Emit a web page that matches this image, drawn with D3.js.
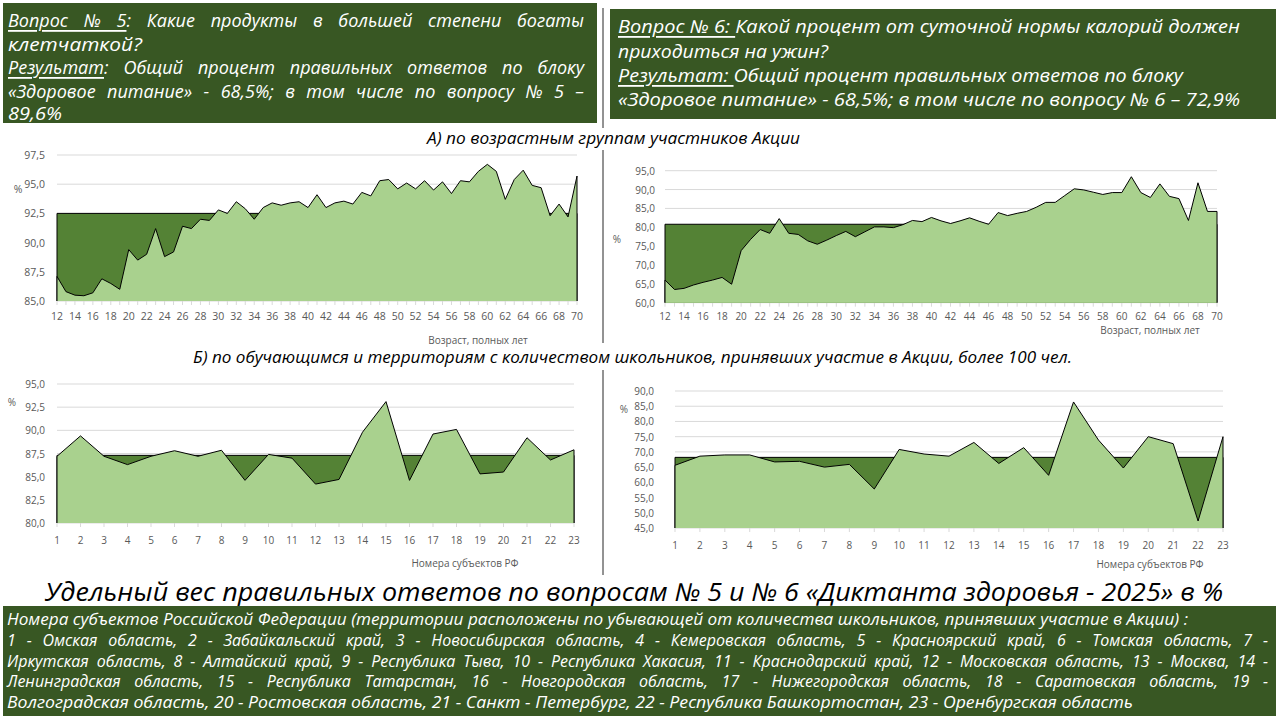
<!DOCTYPE html>
<html lang="ru">
<head>
<meta charset="UTF-8">
<title>Диктант здоровья - 2025</title>
<style>
  body { margin: 0; background: #fff; }
  svg { display: block; }
</style>
</head>
<body>
<div id="chart"></div>
<script src="https://d3js.org/d3.v7.min.js"></script>
<script>
// categories
const ages = [12, 13, 14, 15, 16, 17, 18, 19, 20, 21, 22, 23, 24, 25, 26, 27, 28, 29, 30, 31,
  32, 33, 34, 35, 36, 37, 38, 39, 40, 41, 42, 43, 44, 45, 46, 47, 48, 49, 50, 51,
  52, 53, 54, 55, 56, 57, 58, 59, 60, 61, 62, 63, 64, 65, 66, 67, 68, 69, 70];
const regions = [1, 2, 3, 4, 5, 6, 7, 8, 9, 10, 11, 12, 13, 14, 15, 16, 17, 18, 19, 20, 21, 22, 23];

// question 5, by age
const q5ByAge = [87.1, 85.8, 85.5, 85.45, 85.7, 86.9, 86.5, 86.0, 89.4, 88.5,
  89.0, 91.2, 88.8, 89.2, 91.4, 91.2, 92.0, 91.9, 92.8, 92.5,
  93.5, 92.9, 92.0, 93.0, 93.4, 93.2, 93.4, 93.5, 93.0, 94.1,
  93.0, 93.4, 93.55, 93.3, 94.3, 94.0, 95.3, 95.4, 94.6, 95.1,
  94.6, 95.3, 94.5, 95.2, 94.2, 95.3, 95.2, 96.1, 96.7, 96.1,
  93.7, 95.4, 96.2, 94.9, 94.7, 92.3, 93.3, 92.2, 95.7];
const q5AgeRef = 92.5;

// question 6, by age
const q6ByAge = [66.0, 63.5, 63.8, 64.7, 65.4, 66.0, 66.7, 64.9, 73.8, 76.8,
  79.4, 78.4, 82.3, 78.4, 78.1, 76.4, 75.5, 76.6, 77.8, 78.9,
  77.5, 78.8, 80.1, 80.1, 79.9, 80.7, 81.8, 81.5, 82.6, 81.7,
  81.0, 81.7, 82.5, 81.6, 80.8, 83.9, 83.1, 83.7, 84.2, 85.3,
  86.6, 86.6, 88.4, 90.2, 89.9, 89.3, 88.7, 89.2, 89.2, 93.4,
  89.2, 87.9, 91.5, 88.2, 87.6, 81.8, 91.8, 84.2, 84.2];
const q6AgeRef = 80.8;

// by region
const q5ByRegion = [87.2, 89.4, 87.2, 86.3, 87.2, 87.8, 87.2, 87.85, 84.6, 87.4, 87.0, 84.2,
  84.7, 89.8, 93.1, 84.6, 89.6, 90.1, 85.3, 85.5, 89.2, 86.8, 87.9];
const q5RegionRef = 87.3;
const q6ByRegion = [65.6, 68.6, 69.0, 69.0, 66.7, 66.9, 65.0, 65.9, 57.8, 70.8, 69.3, 68.6,
  73.1, 66.2, 71.4, 62.3, 86.4, 73.9, 64.7, 75.0, 72.7, 47.3, 75.0];
const q6RegionRef = 68.2;

// y tick labels
const yTicks1 = [85, 87.5, 90, 92.5, 95, 97.5];
const yTicks2 = [60, 65, 70, 75, 80, 85, 90, 95];
const yTicks3 = [80, 82.5, 85, 87.5, 90, 92.5, 95];
const yTicks4 = [45, 50, 55, 60, 65, 70, 75, 80, 85, 90];

const FONT = "'Open Sans', 'Noto Sans', sans-serif";
const BOX = '#385723';
const DARK = '#548235';
const LIGHT = '#a9d18e';
const fmt = v => d3.format('.1f')(v).replace('.', ',');

const svg = d3.select('#chart')
  .append('svg')
  .attr('width', 1280)
  .attr('height', 720);

svg.append('rect').attr('width', 1280).attr('height', 720).attr('fill', '#fff');

// fit a line of text to a width (justify = stretch spaces)
function fit(sel, width, justify) {
  const node = sel.node();
  const w = node.getComputedTextLength();
  if (justify && w < width) {
    const spaces = (node.textContent.match(/ /g) || []).length;
    sel.attr('word-spacing', (width - w) / spaces);
  } else {
    sel.attr('textLength', width).attr('lengthAdjust', 'spacingAndGlyphs');
  }
}

function textLine(x, y, parts, size, color, width, justify) {
  const t = svg.append('text')
    .attr('x', x)
    .attr('y', y)
    .attr('dominant-baseline', 'central')
    .attr('font-family', FONT)
    .attr('font-style', 'italic')
    .attr('font-size', size)
    .attr('fill', color);
  parts.forEach(p => {
    t.append('tspan')
      .attr('text-decoration', p[1] ? 'underline' : null)
      .text(p[0]);
  });
  if (width) fit(t, width, justify);
  return t;
}

// header boxes
svg.append('rect').attr('x', 3).attr('y', 3).attr('width', 594).attr('height', 120).attr('fill', BOX);
svg.append('rect').attr('x', 610).attr('y', 9).attr('width', 666).attr('height', 110).attr('fill', BOX);

const W = '#ffffff';
textLine(8, 20, [['Вопрос № 5', 1], [': Какие продукты в большей степени богаты']], 18, W, 576, true);
textLine(8, 44, [['клетчаткой?']], 18, W, 134, false);
textLine(8, 67, [['Результат', 1], [': Общий процент правильных ответов по блоку']], 18, W, 576, true);
textLine(8, 91, [['«Здоровое питание» - 68,5%; в том числе по вопросу № 5 –']], 18, W, 576, true);
textLine(8, 113, [['89,6%']], 18, W, 54, false);

textLine(618, 26, [['Вопрос № 6: ', 1], ['Какой процент от суточной нормы калорий должен']], 18, W, 622, false);
textLine(618, 51, [['приходиться на ужин?']], 18, W, 210, false);
textLine(618, 75, [['Результат: ', 1], ['Общий процент правильных ответов по блоку']], 18, W, 565, false);
textLine(618, 99, [['«Здоровое питание» - 68,5%; в том числе по вопросу № 6 – 72,9%']], 18, W, 622, false);

// divider
[[8, 128], [150, 343], [370, 575]].forEach(s => {
  svg.append('line')
    .attr('x1', 603).attr('x2', 603)
    .attr('y1', s[0]).attr('y2', s[1])
    .attr('stroke', '#262626').attr('stroke-width', 1);
});

// subtitles
textLine(427, 138, [['А) по возрастным группам участников Акции']], 16, '#000', 373, false);
textLine(193, 357, [['Б) по обучающимся и территориям с количеством школьников,  принявших участие в Акции, более 100 чел.']], 16, '#000', 879, false);

function drawChart(cfg) {
  const g = svg.append('g');
  const x = d3.scaleLinear()
    .domain([cfg.cats[0], cfg.cats[cfg.cats.length - 1]])
    .range(cfg.xr);
  const y = d3.scaleLinear()
    .domain([cfg.ticks[0], cfg.ticks[cfg.ticks.length - 1]])
    .range(cfg.yr);
  const base = cfg.ticks[0];

  // gridlines
  g.selectAll('.grid')
    .data(cfg.ticks)
    .enter()
    .append('line')
    .attr('x1', cfg.xr[0]).attr('x2', cfg.xr[1])
    .attr('y1', d => y(d)).attr('y2', d => y(d))
    .attr('stroke', '#d9d9d9')
    .attr('stroke-width', 1);

  // x tick marks
  g.selectAll('.tick')
    .data(cfg.cats)
    .enter()
    .append('line')
    .attr('x1', d => x(d)).attr('x2', d => x(d))
    .attr('y1', y(base)).attr('y2', y(base) + 4)
    .attr('stroke', '#d9d9d9');

  // reference area
  const refArea = d3.area()
    .x(d => x(d))
    .y0(y(base))
    .y1(y(cfg.ref));
  g.append('path').attr('d', refArea(cfg.cats)).attr('fill', DARK);

  const outline = d3.line().x(d => x(d[0])).y(d => y(d[1]));
  const first = cfg.cats[0], last = cfg.cats[cfg.cats.length - 1];
  g.append('path')
    .attr('d', outline([[first, base], [first, cfg.ref], [last, cfg.ref], [last, base]]))
    .attr('fill', 'none').attr('stroke', '#000').attr('stroke-width', 1);

  // series area
  const pts = cfg.cats.map((c, i) => [c, cfg.values[i]]);
  const area = d3.area()
    .x(d => x(d[0]))
    .y0(y(base))
    .y1(d => y(d[1]));
  g.append('path').attr('d', area(pts)).attr('fill', LIGHT);
  g.append('path')
    .attr('d', outline([[first, base]].concat(pts, [[last, base]])))
    .attr('fill', 'none').attr('stroke', '#000').attr('stroke-width', 1)
    .attr('stroke-linejoin', 'round');

  // y labels
  g.selectAll('.ylab')
    .data(cfg.ticks)
    .enter()
    .append('text')
    .attr('x', cfg.xr[0] - cfg.yOff)
    .attr('y', d => y(d))
    .attr('dominant-baseline', 'central')
    .attr('text-anchor', 'end')
    .attr('font-family', FONT)
    .attr('font-size', cfg.fs)
    .attr('fill', '#595959')
    .text(fmt);

  // x labels
  g.selectAll('.xlab')
    .data(cfg.cats.filter((c, i) => i % cfg.step === 0))
    .enter()
    .append('text')
    .attr('x', d => x(d))
    .attr('y', cfg.xLabY)
    .attr('dominant-baseline', 'central')
    .attr('text-anchor', 'middle')
    .attr('font-family', FONT)
    .attr('font-size', cfg.fs)
    .attr('fill', '#595959')
    .text(d => d);

  g.append('text')
    .attr('x', cfg.pct[0]).attr('y', cfg.pct[1])
    .attr('dominant-baseline', 'central')
    .attr('text-anchor', 'middle')
    .attr('font-family', FONT)
    .attr('font-size', cfg.fs)
    .attr('fill', '#595959')
    .text('%');

  g.append('text')
    .attr('x', cfg.title[1]).attr('y', cfg.title[2])
    .attr('dominant-baseline', 'central')
    .attr('text-anchor', 'middle')
    .attr('font-family', FONT)
    .attr('font-size', 10)
    .attr('fill', '#595959')
    .text(cfg.title[0]);
}

drawChart({ cats: ages, values: q5ByAge, ref: q5AgeRef, ticks: yTicks1,
  xr: [57, 577], yr: [301, 155], yOff: 12, fs: 10.5, step: 2, xLabY: 316,
  pct: [18, 189], title: ['Возраст, полных лет', 478, 340] });

drawChart({ cats: ages, values: q6ByAge, ref: q6AgeRef, ticks: yTicks2,
  xr: [665, 1217], yr: [302.7, 170.7], yOff: 10, fs: 10, step: 2, xLabY: 316,
  pct: [617, 239], title: ['Возраст, полных лет', 1150, 330] });

drawChart({ cats: regions, values: q5ByRegion, ref: q5RegionRef, ticks: yTicks3,
  xr: [57, 574], yr: [523, 384], yOff: 12, fs: 10, step: 1, xLabY: 540,
  pct: [12, 402], title: ['Номера субъектов  РФ', 465, 563] });

drawChart({ cats: regions, values: q6ByRegion, ref: q6RegionRef, ticks: yTicks4,
  xr: [675, 1223], yr: [528, 391], yOff: 21, fs: 10, step: 1, xLabY: 545,
  pct: [624, 409], title: ['Номера субъектов  РФ', 1150, 564] });

// main title
textLine(45, 591, [['Удельный вес правильных ответов по вопросам № 5 и № 6 «Диктанта здоровья - 2025» в %']], 25, '#000', 1178, false);

// footer
svg.append('rect').attr('x', 3).attr('y', 606).attr('width', 1273).attr('height', 110).attr('fill', BOX);
const footer = [
  ['Номера субъектов Российской Федерации (территории расположены по убывающей от количества школьников, принявших участие в Акции) :', 1181, false],
  ['1 - Омская область, 2 - Забайкальский край, 3 - Новосибирская область, 4 - Кемеровская область, 5 - Красноярский край, 6 - Томская область, 7 -', 1261, true],
  ['Иркутская область, 8 - Алтайский край, 9 - Республика Тыва, 10 - Республика Хакасия, 11 - Краснодарский край, 12 - Московская область, 13 - Москва, 14 -', 1261, true],
  ['Ленинградская область, 15 - Республика Татарстан, 16 - Новгородская область, 17 - Нижегородская область, 18 - Саратовская область, 19 -', 1261, true],
  ['Волгоградская область, 20 - Ростовская область, 21 - Санкт - Петербург, 22 - Республика Башкортостан, 23 - Оренбургская область', 1126, false]
];
footer.forEach((f, i) => {
  textLine(7, 619 + i * 20.8, [[f[0]]], 16, W, f[1], f[2]);
});
</script>
</body>
</html>
